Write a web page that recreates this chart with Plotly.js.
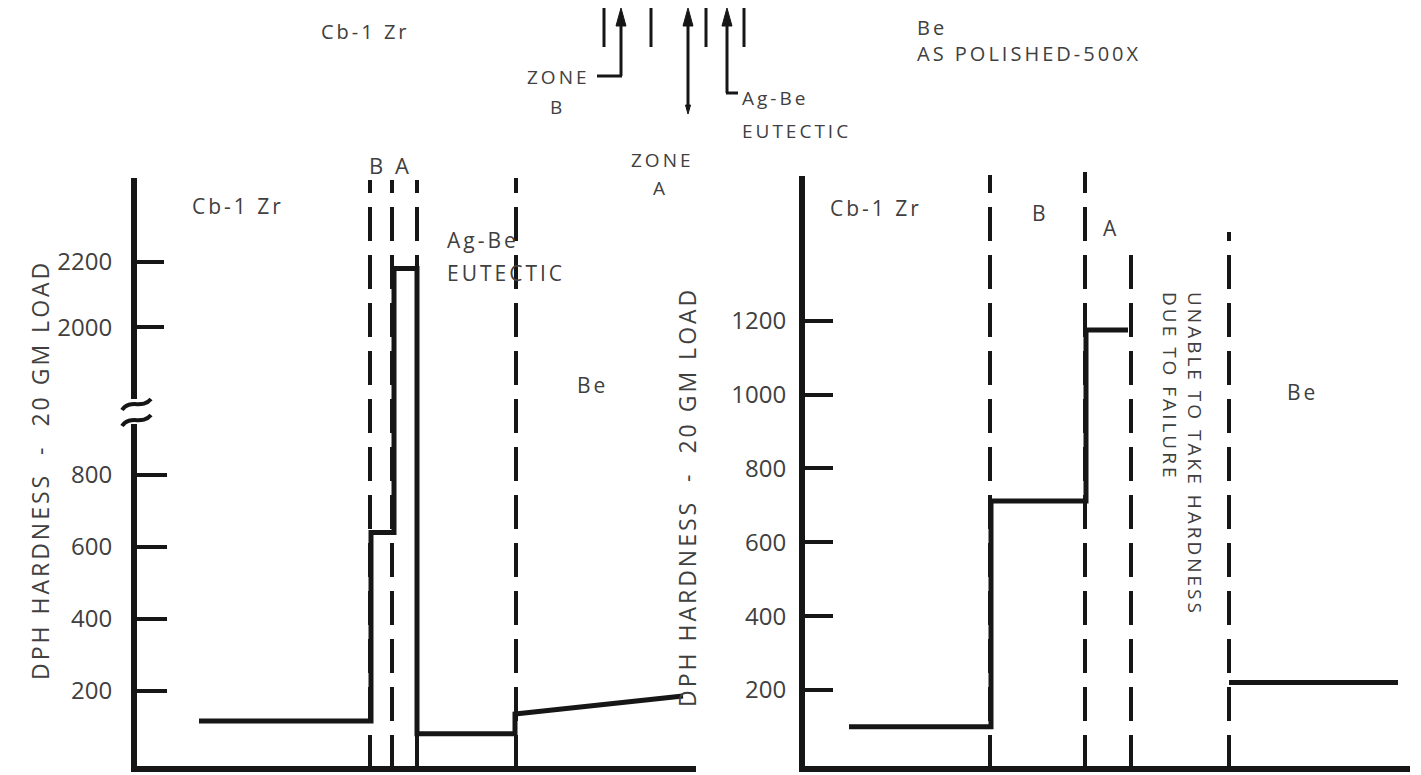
<!DOCTYPE html>
<html><head><meta charset="utf-8">
<script src="https://cdn.plot.ly/plotly-3.0.1.min.js"></script>
<style>html,body{margin:0;padding:0;background:#fff}#chart{width:1421px;height:775px}
text.annotation-text{letter-spacing:3px}</style>
</head><body><div id="chart"></div>
<script>
// ---- Data (distance along traverse in arbitrary units, DPH hardness) ----
// Left panel (broken hardness axis)
const leftDistance = [62, 234, 234, 257, 257, 280, 280, 378, 378, 546];
const leftHardness = [115, 115, 640, 640, 2180, 2180, 80, 80, 135, 185];
const leftZoneBounds = [233, 255, 280, 379];
const leftLowerTicks = [200, 400, 600, 800];
const leftUpperTicks = [2000, 2200];
// Right panel
const rightDistance = [47, 189, 189, 284, 284, 326, null, 427, 596];
const rightHardness = [100, 100, 712, 712, 1175, 1175, null, 220, 220];
const rightZoneBounds = [188, 283, 329, 427];
const rightTicks = [200, 400, 600, 800, 1000, 1200];
const yTitle = 'DPH HARDNESS  -  20 GM LOAD';

// ---- helpers for pixel placement ----
const W = 1421, H = 775;
const X = p => p / W;
const Y = p => 1 - p / H;
const pt = (x, y) => X(x).toFixed(5) + ',' + Y(y).toFixed(5);
const INK = '#161616';
const TXT = '#404040';
const FONT = 'Open Sans, Liberation Sans, sans-serif';

const lineStyle = {color: INK, width: 5};
const traces = [
  {x: leftDistance, y: leftHardness, xaxis: 'x', yaxis: 'y', mode: 'lines', line: lineStyle, hoverinfo: 'skip', showlegend: false},
  {x: leftDistance, y: leftHardness, xaxis: 'x', yaxis: 'y3', mode: 'lines', line: lineStyle, hoverinfo: 'skip', showlegend: false},
  {x: rightDistance, y: rightHardness, xaxis: 'x2', yaxis: 'y2', mode: 'lines', line: lineStyle, connectgaps: false, hoverinfo: 'skip', showlegend: false}
];

const tickFont = {family: FONT, size: 24, color: TXT};
const baseY = {showline: true, linewidth: 6, linecolor: INK, ticks: 'inside', ticklen: 30, tickwidth: 4, tickcolor: INK,
  showgrid: false, zeroline: false, tickfont: tickFont, fixedrange: true};
const baseX = {showline: true, linewidth: 6, linecolor: INK, ticks: '', showticklabels: false, showgrid: false, zeroline: false, fixedrange: true};

const bottomPx = 766, breakPx = 412;
const layout = {
  width: W, height: H, margin: {l: 0, r: 0, t: 0, b: 0},
  paper_bgcolor: '#fff', plot_bgcolor: 'rgba(0,0,0,0)', showlegend: false,
  xaxis: Object.assign({}, baseX, {domain: [X(137), X(696)], range: [0, 559], anchor: 'y'}),
  yaxis: Object.assign({}, baseY, {domain: [Y(bottomPx), Y(breakPx)], range: [-10, 975], tickvals: leftLowerTicks, ticklabelstandoff: 14, anchor: 'x'}),
  yaxis3: Object.assign({}, baseY, {domain: [Y(breakPx), Y(178)], range: [1740, 2458], tickvals: leftUpperTicks, ticklen: 27, ticklabelstandoff: 14, anchor: 'x'}),
  xaxis2: Object.assign({}, baseX, {domain: [X(805), X(1410)], range: [3, 608], anchor: 'y2'}),
  yaxis2: Object.assign({}, baseY, {domain: [Y(bottomPx), Y(176)], range: [-6, 1592], tickvals: rightTicks, ticklen: 28, ticklabelstandoff: 8, anchor: 'x2'}),
  shapes: [], annotations: []
};

// zone boundary dashed lines
const dash = '34px,14px';
const leftTops = [180, 180, 180, 178];
leftZoneBounds.forEach((b, i) => layout.shapes.push({type: 'line', xref: 'x', yref: 'paper', x0: b, x1: b, y0: Y(769), y1: Y(leftTops[i]), line: {color: INK, width: 4, dash: dash}}));
const rightTops = [175, 172, 248, 232];
rightZoneBounds.forEach((b, i) => layout.shapes.push({type: 'line', xref: 'x2', yref: 'paper', x0: b, x1: b, y0: Y(769), y1: Y(rightTops[i]), line: {color: INK, width: 4, dash: dash}}));

// axis break on left panel
layout.shapes.push({type: 'rect', xref: 'paper', yref: 'paper', x0: X(126), x1: X(144), y0: Y(424), y1: Y(399), fillcolor: '#fff', line: {width: 0}, layer: 'above'});
layout.shapes.push({type: 'path', xref: 'paper', yref: 'paper', layer: 'above', line: {color: INK, width: 4},
  path: 'M' + pt(122, 410) + ' C' + pt(130, 398) + ' ' + pt(142, 410) + ' ' + pt(151, 399)});
layout.shapes.push({type: 'path', xref: 'paper', yref: 'paper', layer: 'above', line: {color: INK, width: 4},
  path: 'M' + pt(122, 426) + ' C' + pt(130, 414) + ' ' + pt(142, 426) + ' ' + pt(151, 415)});

// top micrograph key: bars and arrows
const seg = (x0, y0, x1, y1, w) => layout.shapes.push({type: 'line', xref: 'paper', yref: 'paper', x0: X(x0), y0: Y(y0), x1: X(x1), y1: Y(y1), line: {color: INK, width: w || 3}});
const head = (x, tip, dir, s) => { s = s || 1; const b = tip + dir * 18 * s; layout.shapes.push({type: 'path', xref: 'paper', yref: 'paper', fillcolor: INK, line: {color: INK, width: 1},
  path: 'M' + pt(x, tip) + ' L' + pt(x - 5 * s, b) + ' L' + pt(x + 5 * s, b) + ' Z'}); };
[604, 651, 706, 744].forEach(x => seg(x, 8, x, 47, 3));
seg(621, 20, 621, 76); seg(597, 76, 622, 76); head(621, 8, 1);
seg(688, 20, 688, 108); head(688, 8, 1); head(688, 114, -1, 0.5);
seg(727, 20, 727, 93); seg(726, 93, 738, 93); head(727, 8, 1);

const ann = (text, x, y, xa, size, extra) => layout.annotations.push(Object.assign({text: text, xref: 'paper', yref: 'paper', x: X(x), y: Y(y),
  xanchor: xa || 'center', yanchor: 'middle', showarrow: false, font: {family: FONT, size: size || 20, color: TXT}}, extra || {}));
// top key labels
ann('Cb-1 Zr', 365, 31, 'center', 20);
ann('ZONE', 592, 77, 'right', 19);
ann('B', 557, 107, 'center', 19);
ann('ZONE', 662, 160, 'center', 19);
ann('A', 660, 188, 'center', 19);
ann('Ag-Be', 740, 98, 'left', 19);
ann('EUTECTIC', 740, 131, 'left', 19);
ann('Be<br>AS POLISHED-500X', 915, 41, 'left', 20, {align: 'left'});
// left panel labels
ann('B A', 390, 165, 'center', 22);
ann('Cb-1 Zr', 190, 206, 'left', 21);
ann('Ag-Be', 445, 240, 'left', 21);
ann('EUTECTIC', 445, 273, 'left', 21);
ann('Be', 575, 385, 'left', 21);
// right panel labels
ann('Cb-1 Zr', 828, 208, 'left', 21);
ann('B', 1040, 213, 'center', 21);
ann('A', 1111, 228, 'center', 21);
ann('UNABLE TO TAKE HARDNESS<br>DUE TO FAILURE', 1183, 290, 'center', 19, {textangle: 90, yanchor: 'top', align: 'left'});
ann('Be', 1285, 392, 'left', 21);
// axis titles
ann(yTitle, 40, 470, 'center', 23, {textangle: -90});
ann(yTitle, 687, 497, 'center', 23, {textangle: -90});

Plotly.newPlot('chart', traces, layout, {staticPlot: true, displayModeBar: false});
</script></body></html>
